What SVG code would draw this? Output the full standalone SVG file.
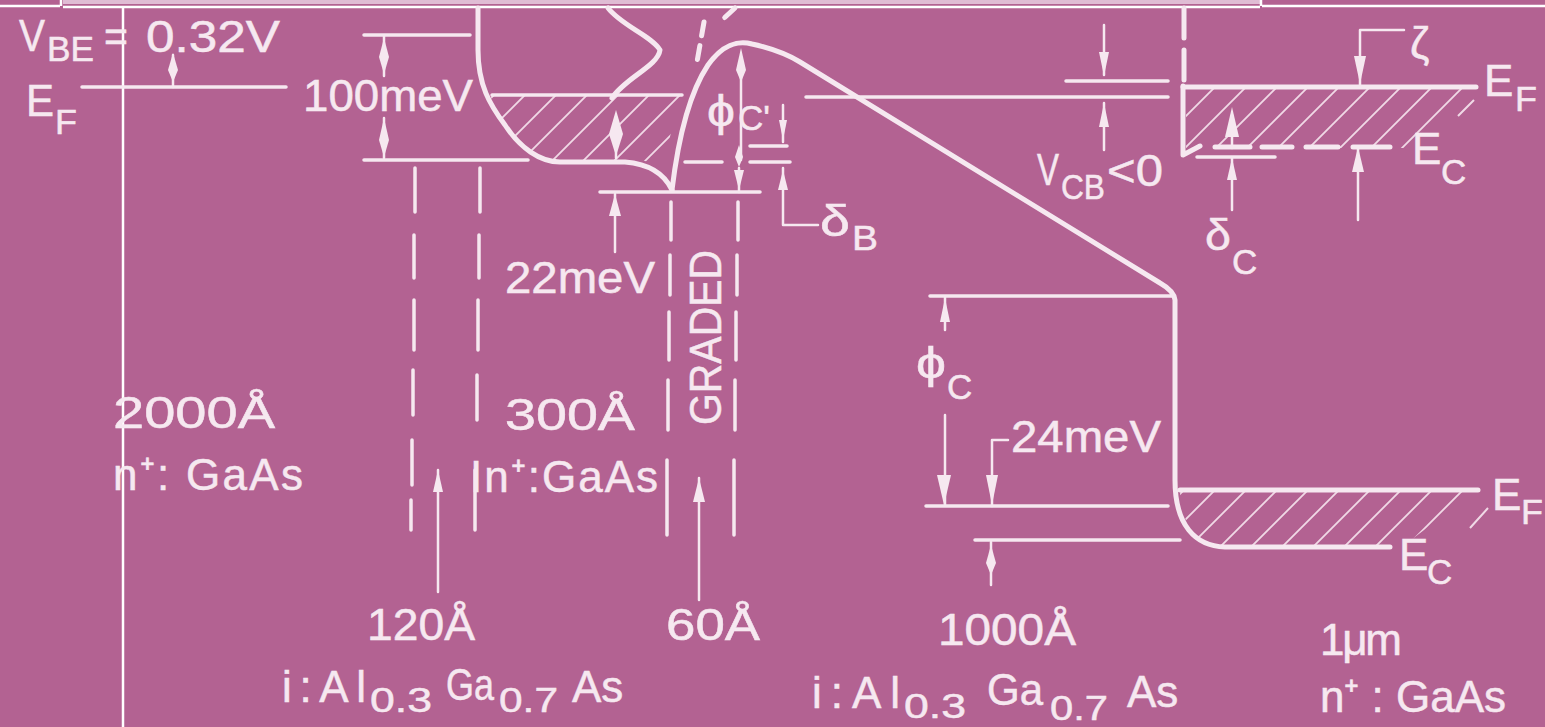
<svg xmlns="http://www.w3.org/2000/svg" width="1545" height="727" viewBox="0 0 1545 727">
<style>
.l{fill:none;stroke:#f6e8f0;stroke-linecap:round;stroke-linejoin:round}
.t1{stroke-width:2.5}.t2{stroke-width:3.5}.t3{stroke-width:5}
.a{fill:#f6e8f0}
text{font-family:"Liberation Sans",Arial,sans-serif;fill:#f6e8f0;font-size:44px;stroke:#f6e8f0;stroke-width:.5}
.s{font-size:35px}
</style>
<defs>
<pattern id="h" width="31" height="31" patternUnits="userSpaceOnUse">
<path d="M-4 35L35 -4M-4 4L4 -4M27 35L35 27" stroke="#f0d9e6" stroke-width="1.8" fill="none"/>
</pattern>
</defs>
<rect width="1545" height="727" fill="#b36292"/>
<g id="frame">
<rect x="63" y="0" width="1197" height="4" fill="#e0bcd4"/>
<path d="M63 7H1260M0 6H60M1262 6H1545M61 0V6M1261 0V6" fill="none" stroke="#fff" stroke-width="2.5"/>
<path d="M123 7V727" fill="none" stroke="#fff" stroke-width="2.5"/>
</g>
<g id="hatching">
<path d="M490 95H682C672 125 668 145 664 165L640 160H550C520 150 500 120 490 95Z" fill="url(#h)"/>
<path d="M1186 88H1475L1415 148H1186Z" fill="url(#h)"/>
<path d="M1180 490H1478L1400 548H1210C1190 535 1180 515 1180 490Z" fill="url(#h)"/>
<path d="M1458 116L1474 100M1470 528L1488 508" stroke="#f0d9e6" stroke-width="2" fill="none"/>
</g>
<g id="band-edges">
<path class="l t3" d="M478 8V50C478 85 490 105 505 125C520 148 540 162 560 162H625C650 164 665 175 672 190"/>
<path class="l t3" d="M608 8C622 26 652 36 660 50C658 66 625 78 612 98"/>
<path class="l t3" d="M672 190C678 140 688 95 708 65C722 45 738 40 752 44C770 48 785 53 800 62L1160 283Q1174 291 1175 300V480C1175 525 1195 546 1225 547H1390"/>
<path class="l t3" d="M735 8L722 20M704 22L697 62" stroke-dasharray="14 10"/>
<path class="l t3" d="M1184 8V38M1184 50V80"/>
<path class="l t3" d="M1183 86V155L1200 146"/>
<path class="l t3" d="M1183 87H1476"/>
<path class="l t3" d="M1215 147H1250M1262 147H1292M1306 147H1338M1353 147H1390"/>
<path class="l t3" d="M1180 490H1478"/>
</g>
<g id="levels">
<path class="l t2" d="M82 87H286M364 35H470M364 160H528M600 192H760M806 97H1168M1066 81H1168M1197 157H1275M930 296H1172M926 506H1168M975 540H1180"/>
<path class="l t2" d="M492 95H682M685 162H722M750 162H790M750 146H787"/>
</g>
<g id="dashes">
<path class="l t2" d="M415 168V212M414 235V278M414 300V350M413 370V415M412 440V485M411 500V530"/>
<path class="l t2" d="M480 168V212M479 235V278M478 300V350M477 375V420M475 470V530"/>
<path class="l t2" d="M671 202V240M670 255V295M669 312V360M668 380V430M667 460V535"/>
<path class="l t2" d="M738 202V240M737 255V295M736 312V360M735 380V430M734 460V535"/>
</g>
<g id="arrows">
<path class="l t1" d="M173 55V87M384 36V76M384 118V158M616 117V158M741 62V160M783 105V142M739 168V192M615 194V252M783 168V225H818M1104 25V75M1104 103V150M1232 115V148M1232 158V210M1360 85V30H1404M1358 148V220M945 297V330M945 415V505M992 506V440H1008M991 542V585M438 470V592M699 478V600"/>
<g class="a">
<path d="M173 53l-5 17 5 12 5-12z"/>
<path d="M384 38l-5 19 5 17 5-17z"/><path d="M384 118l-5 22 5 17 5-17z"/>
<path d="M616 110l-7 24 7 22 7-22z"/>
<path d="M741 48l-5 22 5 12 5-12z"/><path d="M739 145l-4 12 4 10 4-10z"/><path d="M739 190l-5-20h10z"/>
<path d="M783 140l-4-20h8z"/><path d="M783 170l-5 20h10z"/>
<path d="M615 194l-6 22h12z"/>
<path d="M1104 76l-5-24h10z"/><path d="M1104 103l-5 24h10z"/>
<path d="M1232 107l-7 30h14z"/><path d="M1232 158l-5 22h10z"/>
<path d="M1360 84l-6-28h12z"/><path d="M1358 147l-6 25h12z"/>
<path d="M945 298l-5 24h10z"/><path d="M944 505l-7-30h14z"/>
<path d="M992 505l-6-30h12z"/><path d="M991 545l-5 18 5 12 5-12z"/>
<path d="M438 470l-5 22h10z"/><path d="M699 478l-6 24h12z"/>
</g>
</g>
<g id="labels">
<text x="19" y="51" textLength="26" lengthAdjust="spacingAndGlyphs">V</text><text x="47" y="61" class="s" textLength="47" lengthAdjust="spacingAndGlyphs">BE</text>
<text x="104" y="52" textLength="24" lengthAdjust="spacingAndGlyphs">=</text><text x="146" y="52" textLength="134" lengthAdjust="spacingAndGlyphs">0.32V</text>
<text x="26" y="116" textLength="28" lengthAdjust="spacingAndGlyphs">E</text><text x="55" y="134" class="s" textLength="22" lengthAdjust="spacingAndGlyphs">F</text>
<text x="303" y="111" textLength="170" lengthAdjust="spacingAndGlyphs">100meV</text>
<text x="505" y="293" textLength="150" lengthAdjust="spacingAndGlyphs">22meV</text>
<text x="707" y="126" font-size="48" textLength="28" lengthAdjust="spacingAndGlyphs">ϕ</text><text x="738" y="130" class="s" textLength="32" lengthAdjust="spacingAndGlyphs">C'</text>
<text x="820" y="236" font-size="44" textLength="30" lengthAdjust="spacingAndGlyphs">δ</text><text x="852" y="250" class="s" textLength="26" lengthAdjust="spacingAndGlyphs">B</text>
<text x="1037" y="185" font-size="42" textLength="22" lengthAdjust="spacingAndGlyphs">V</text><text x="1061" y="199" class="s" textLength="44" lengthAdjust="spacingAndGlyphs">CB</text><text x="1107" y="186" font-size="38" textLength="56" lengthAdjust="spacingAndGlyphs">&lt;0</text>
<text x="1205" y="250" font-size="46" textLength="26" lengthAdjust="spacingAndGlyphs">δ</text><text x="1232" y="274" class="s">C</text>
<text x="1410" y="58" font-size="42">ζ</text>
<text x="1484" y="96" font-size="40">E</text><text x="1515" y="111" class="s" textLength="22" lengthAdjust="spacingAndGlyphs">F</text>
<text x="1412" y="164" font-size="40">E</text><text x="1441" y="184" class="s">C</text>
<text x="1492" y="510" font-size="40">E</text><text x="1521" y="524" class="s" textLength="22" lengthAdjust="spacingAndGlyphs">F</text>
<text x="1399" y="570" font-size="40">E</text><text x="1427" y="584" class="s">C</text>
<text transform="translate(721 425) rotate(-90)" font-size="38" textLength="175" lengthAdjust="spacingAndGlyphs">GRADED</text>
<text x="113" y="428" textLength="162" lengthAdjust="spacingAndGlyphs">2000Å</text>
<text x="113" y="490" font-size="38" textLength="190" lengthAdjust="spacing">n⁺: GaAs</text>
<text x="505" y="430" textLength="130" lengthAdjust="spacingAndGlyphs">300Å</text>
<text x="470" y="492" font-size="38" textLength="188" lengthAdjust="spacing">In⁺:GaAs</text>
<text x="916" y="378" font-size="52" textLength="30" lengthAdjust="spacingAndGlyphs">ϕ</text><text x="947" y="399" class="s">C</text>
<text x="1011" y="452" font-size="42" textLength="150" lengthAdjust="spacingAndGlyphs">24meV</text>
<text x="367" y="640" textLength="108" lengthAdjust="spacingAndGlyphs">120Å</text>
<text x="666" y="640" textLength="94" lengthAdjust="spacingAndGlyphs">60Å</text>
<text x="938" y="645" textLength="138" lengthAdjust="spacingAndGlyphs">1000Å</text>
<text x="1320" y="655" font-size="38" textLength="82" lengthAdjust="spacing">1μm</text>
<text x="282" y="702" font-size="38" textLength="84" lengthAdjust="spacing">i:Al</text><text x="370" y="712" class="s" textLength="62" lengthAdjust="spacingAndGlyphs">0.3</text><text x="446" y="700" font-size="38" textLength="48" lengthAdjust="spacingAndGlyphs">Ga</text><text x="499" y="712" class="s" textLength="59" lengthAdjust="spacingAndGlyphs">0.7</text><text x="572" y="702" font-size="38">As</text>
<text x="812" y="708" font-size="38" textLength="88" lengthAdjust="spacing">i:Al</text><text x="904" y="718" class="s" textLength="62" lengthAdjust="spacingAndGlyphs">0.3</text><text x="987" y="705" font-size="38" textLength="56" lengthAdjust="spacingAndGlyphs">Ga</text><text x="1050" y="720" class="s" textLength="58" lengthAdjust="spacingAndGlyphs">0.7</text><text x="1127" y="707" font-size="38">As</text>
<text x="1320" y="712" font-size="38" textLength="186" lengthAdjust="spacing">n⁺ : GaAs</text>
</g>
</svg>
